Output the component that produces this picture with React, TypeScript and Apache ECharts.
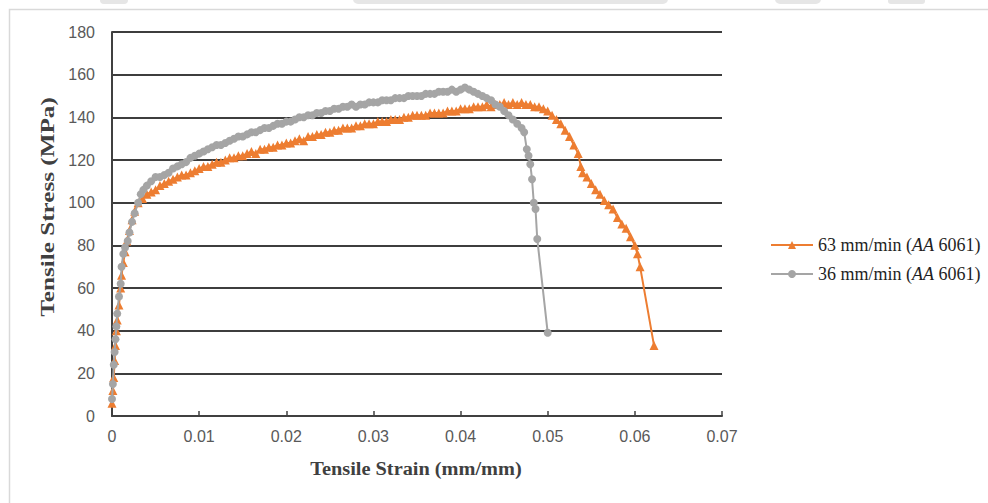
import React, { useEffect, useRef } from "react";
import * as echarts from "echarts";

const seriesNames = ["63 mm/min (AA 6061)", "36 mm/min (AA 6061)"];
const xTitle = "Tensile Strain (mm/mm)";
const yTitle = "Tensile Stress (MPa)";

const xTicks = [0, 0.01, 0.02, 0.03, 0.04, 0.05, 0.06, 0.07];
const yTicks = [0, 20, 40, 60, 80, 100, 120, 140, 160, 180];

const orange63: [number, number][] = [
  [0, 6], [0.0001, 12], [0.0002, 18], [0.0003, 26], [0.0004, 33], [0.0005, 40], [0.0006, 45],
  [0.0008, 52], [0.001, 60], [0.0011, 66], [0.0013, 72], [0.0015, 77], [0.0017, 82], [0.002, 87],
  [0.0023, 92], [0.0026, 96], [0.003, 100], [0.0035, 102], [0.004, 104], [0.0045, 105], [0.005, 106],
  [0.0055, 108], [0.006, 109], [0.0065, 110], [0.007, 111], [0.0075, 112], [0.008, 113], [0.0085, 113],
  [0.009, 114], [0.0095, 115], [0.01, 116], [0.0105, 117], [0.011, 117], [0.0115, 118], [0.012, 119],
  [0.0125, 119], [0.013, 120], [0.0135, 121], [0.014, 121], [0.0145, 122], [0.015, 122], [0.0155, 123],
  [0.016, 124], [0.0165, 123], [0.017, 125], [0.0175, 125], [0.018, 126], [0.0185, 126], [0.019, 127],
  [0.0195, 127], [0.02, 128], [0.0205, 128], [0.021, 129], [0.0215, 130], [0.022, 129], [0.0225, 131],
  [0.023, 131], [0.0235, 132], [0.024, 132], [0.0245, 133], [0.025, 133], [0.0255, 134], [0.026, 134],
  [0.0265, 135], [0.027, 135], [0.0275, 135], [0.028, 136], [0.0285, 136], [0.029, 137], [0.0295, 137],
  [0.03, 137], [0.0305, 138], [0.031, 138], [0.0315, 138], [0.032, 139], [0.0325, 139], [0.033, 139],
  [0.0335, 140], [0.034, 140], [0.0345, 141], [0.035, 141], [0.0355, 141], [0.036, 141], [0.0365, 142],
  [0.037, 142], [0.0375, 142], [0.038, 142], [0.0385, 143], [0.039, 143], [0.0395, 143], [0.04, 144],
  [0.0405, 144], [0.041, 144], [0.0415, 145], [0.042, 145], [0.0425, 145], [0.043, 146], [0.0435, 145],
  [0.044, 146], [0.0445, 146], [0.045, 147], [0.0455, 146], [0.046, 147], [0.0465, 146], [0.047, 147],
  [0.0475, 146], [0.048, 146], [0.0485, 145], [0.049, 145], [0.0495, 144], [0.05, 143], [0.0505, 141],
  [0.051, 139], [0.0515, 137], [0.052, 134], [0.0525, 131], [0.053, 127], [0.0535, 123], [0.0538, 117],
  [0.054, 114], [0.0545, 112], [0.055, 109], [0.0555, 106], [0.056, 104], [0.0565, 101], [0.057, 99],
  [0.0575, 97], [0.058, 93], [0.0585, 90], [0.059, 88], [0.0595, 84], [0.06, 80], [0.0603, 76],
  [0.0606, 70], [0.0622, 33],
];

const gray36: [number, number][] = [
  [0, 8], [0.0001, 15], [0.0002, 24], [0.0003, 30], [0.0004, 36], [0.0005, 42], [0.0006, 48],
  [0.0008, 56], [0.001, 62], [0.0011, 70], [0.0013, 76], [0.0015, 79], [0.0018, 82], [0.002, 86],
  [0.0023, 91], [0.0026, 95], [0.003, 100], [0.0033, 104], [0.0036, 106], [0.004, 108], [0.0045, 110],
  [0.005, 112], [0.0055, 112], [0.006, 113], [0.0065, 114], [0.007, 116], [0.0075, 117], [0.008, 118],
  [0.0085, 119], [0.009, 121], [0.0095, 122], [0.01, 123], [0.0105, 124], [0.011, 125], [0.0115, 126],
  [0.012, 127], [0.0125, 127], [0.013, 128], [0.0135, 129], [0.014, 130], [0.0145, 131], [0.015, 131],
  [0.0155, 132], [0.016, 133], [0.0165, 133], [0.017, 134], [0.0175, 135], [0.018, 135], [0.0185, 136],
  [0.019, 137], [0.0195, 137], [0.02, 138], [0.0205, 138], [0.021, 139], [0.0215, 140], [0.022, 140],
  [0.0225, 141], [0.023, 141], [0.0235, 142], [0.024, 142], [0.0245, 143], [0.025, 143], [0.0255, 144],
  [0.026, 144], [0.0265, 145], [0.027, 145], [0.0275, 146], [0.028, 145], [0.0285, 146], [0.029, 146],
  [0.0295, 147], [0.03, 147], [0.0305, 147], [0.031, 148], [0.0315, 148], [0.032, 148], [0.0325, 149],
  [0.033, 149], [0.0335, 149], [0.034, 150], [0.0345, 150], [0.035, 150], [0.0355, 150], [0.036, 151],
  [0.0365, 151], [0.037, 151], [0.0375, 152], [0.038, 152], [0.0385, 152], [0.039, 153], [0.0395, 152],
  [0.04, 153], [0.0405, 154], [0.041, 153], [0.0415, 152], [0.042, 151], [0.0425, 150], [0.043, 149],
  [0.0435, 148], [0.044, 146], [0.0445, 145], [0.045, 143], [0.0455, 141], [0.046, 139], [0.0465, 137],
  [0.047, 135], [0.0473, 133], [0.0476, 125], [0.0478, 122], [0.048, 118], [0.0482, 111], [0.0484, 100],
  [0.0486, 97], [0.0488, 83], [0.05, 39],
];

const labelFont = "'Liberation Sans', Arial, sans-serif";
const serif = "'Liberation Serif', 'Times New Roman', serif";

export default function App() {
  const ref = useRef<HTMLDivElement>(null);
  useEffect(() => {
    if (!ref.current) return;
    const chart = echarts.init(ref.current, undefined, { renderer: "svg" });
    const legendFormatter = (name: string) => {
      const i = name.indexOf("AA");
      return `{n|${name.slice(0, i)}}{i|AA}{n|${name.slice(i + 2)}}`;
    };
    chart.setOption({
      animation: false,
      backgroundColor: "#ffffff",
      graphic: [
        { type: "rect", shape: { x: 9.5, y: 9.5, width: 1100, height: 600 }, style: { fill: "none", stroke: "#d9d9d9", lineWidth: 1.5 }, silent: true },
        { type: "rect", shape: { x: 100, y: -6, width: 28, height: 10, r: 4 }, style: { fill: "#e6e6e6" }, silent: true },
        { type: "rect", shape: { x: 353, y: -6, width: 315, height: 10, r: 5 }, style: { fill: "#e6e6e6" }, silent: true },
        { type: "rect", shape: { x: 775, y: -6, width: 46, height: 10, r: 5 }, style: { fill: "#e6e6e6" }, silent: true },
        { type: "rect", shape: { x: 888, y: -6, width: 37, height: 10, r: 3 }, style: { fill: "#e6e6e6" }, silent: true },
        {
          type: "text",
          x: 416,
          y: 469,
          scaleX: 1.13,
          silent: true,
          style: { text: xTitle, fontFamily: serif, fontWeight: "bold", fontSize: 18, fill: "#404040", align: "center", verticalAlign: "middle" },
        },
        {
          type: "text",
          x: 48,
          y: 207,
          rotation: Math.PI / 2,
          scaleX: 1.4,
          silent: true,
          style: { text: yTitle, fontFamily: serif, fontWeight: "bold", fontSize: 18, fill: "#404040", align: "center", verticalAlign: "middle" },
        },
      ],
      grid: { left: 112, right: 266, top: 32, bottom: 87, containLabel: false },
      legend: {
        orient: "vertical",
        left: 765,
        top: 231,
        itemWidth: 42,
        itemHeight: 10,
        itemGap: 11,
        data: seriesNames,
        formatter: legendFormatter,
        textStyle: {
          fontFamily: serif,
          fontSize: 18,
          color: "#1f1f1f",
          rich: {
            n: { fontFamily: serif, fontSize: 18, color: "#1f1f1f" },
            i: { fontFamily: serif, fontSize: 18, color: "#1f1f1f", fontStyle: "italic" },
          },
        },
      },
      xAxis: {
        type: "value",
        min: 0,
        max: 0.07,
        interval: 0.01,
        axisLine: { show: true, onZero: false, lineStyle: { color: "#404040", width: 2 } },
        axisTick: { show: true, inside: true, length: 5, lineStyle: { color: "#404040", width: 1.5 } },
        splitLine: { show: false },
        axisLabel: {
          margin: 12,
          fontFamily: labelFont,
          fontSize: 16,
          color: "#595959",
          formatter: (v: number) => {
            const idx = xTicks.findIndex((t) => Math.abs(t - v) < 1e-9);
            if (idx < 0) return "";
            return xTicks[idx] === 0 ? "0" : xTicks[idx].toFixed(2);
          },
        },
      },
      yAxis: {
        type: "value",
        min: 0,
        max: 180,
        interval: 20,
        axisLine: { show: true, lineStyle: { color: "#404040", width: 2 } },
        axisTick: { show: false },
        splitLine: { show: true, lineStyle: { color: "#3d3d3d", width: 2 } },
        axisLabel: {
          margin: 17,
          fontFamily: labelFont,
          fontSize: 16,
          color: "#595959",
          formatter: (v: number) => (yTicks.includes(v) ? String(v) : ""),
        },
      },
      series: [
        {
          name: seriesNames[0],
          type: "line",
          data: orange63,
          symbol: "triangle",
          symbolSize: 9,
          showSymbol: true,
          itemStyle: { color: "#ED7D31" },
          lineStyle: { color: "#ED7D31", width: 2 },
          z: 2,
        },
        {
          name: seriesNames[1],
          type: "line",
          data: gray36,
          symbol: "circle",
          symbolSize: 8,
          showSymbol: true,
          itemStyle: { color: "#A5A5A5" },
          lineStyle: { color: "#A5A5A5", width: 2 },
          z: 3,
        },
      ],
    });
    return () => chart.dispose();
  }, []);
  return (
    <div
      ref={ref}
      style={{ position: "fixed", left: 0, top: 0, width: 988, height: 503, overflow: "hidden", background: "#fff" }}
    />
  );
}
